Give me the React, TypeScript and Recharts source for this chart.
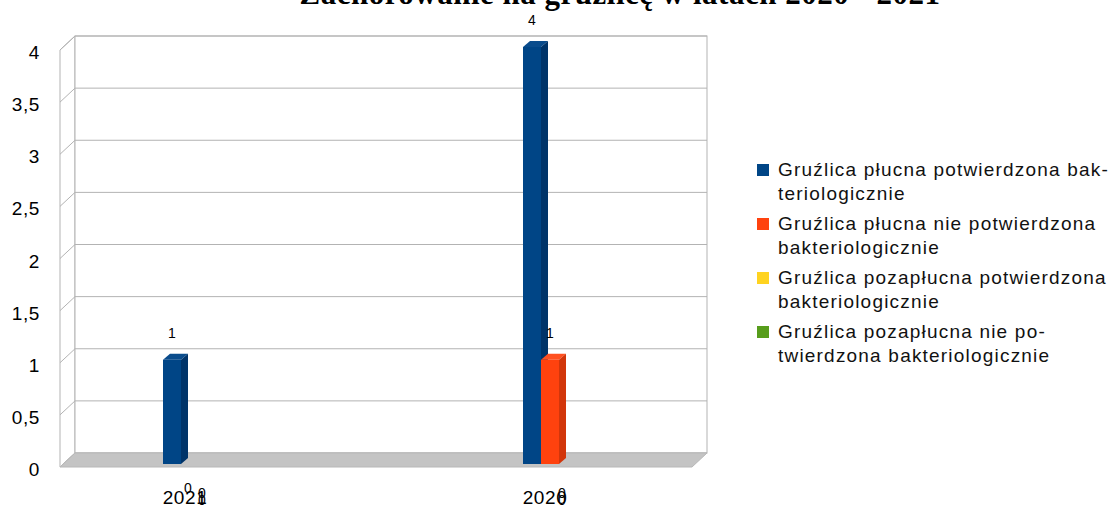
import * as React from 'react';
import * as R from 'recharts';
import { BarChart, Bar, XAxis, YAxis, Legend, LabelList } from 'recharts';

// chart data
const categories = ['2021', '2020'];
const pulmonaryConfirmed = [1, 4];
const pulmonaryUnconfirmed = [0, 1];
const extraConfirmed = [0, 0];
const extraUnconfirmed = [0, 0];
const yTicks = [0, 0.5, 1, 1.5, 2, 2.5, 3, 3.5, 4];

const seriesNames = [
  'Gruźlica płucna potwierdzona bak\u00ADteriologicznie',
  'Gruźlica płucna nie potwierdzona bakteriologicznie',
  'Gruźlica pozapłucna potwierdzona bakteriologicznie',
  'Gruźlica pozapłucna nie po\u00ADtwierdzona bakteriologicznie'
];
const seriesKeys = ['pc', 'pu', 'ec', 'eu'];
const seriesValues = [pulmonaryConfirmed, pulmonaryUnconfirmed, extraConfirmed, extraUnconfirmed];

const frontColors = ['#004586', '#ff420e', '#ffd320', '#579d1c'];
const sideColors = ['#003469', '#d2360b', '#d4af1a', '#477f17'];
const topColors = ['#0a4c8c', '#ff5020', '#ffdb45', '#63a828'];

const data = categories.map((name, i) => {
  const row: { [key: string]: string | number } = { name };
  seriesKeys.forEach((k, s) => {
    row[k] = seriesValues[s][i];
  });
  return row;
});

const FONT = '"Liberation Sans", Arial, sans-serif';
const WALL_DX = 15; // 3d depth of the walls
const WALL_DY = 14;
const BAR_DX = 14; // bars sit behind the category tick
const BAR_DEPTH = 7;
const BAR_SIZE = 18;
const GRID = '#b3b3b3';
const LEGEND_W = 358;

const usePlot: () => any = (R as any).usePlotArea || (R as any).useOffset || (() => null);

const Walls = () => {
  const plot = usePlot();
  if (!plot) return null;
  const max = yTicks[yTicks.length - 1];
  const sy = (v: number) => plot.y + plot.height * (1 - v / max);
  const fl = plot.x + 55; // front left edge
  const bl = fl + WALL_DX; // back left edge
  const br = plot.x + plot.width - 18; // back right edge
  const front = (v: number) => sy(v) + 3;
  const back = (v: number) => front(v) - WALL_DY;
  return (
    <g>
      <polygon
        points={`${fl},${front(max)} ${bl},${back(max)} ${bl},${back(0)} ${fl},${front(0)}`}
        fill="#fff"
        stroke={GRID}
      />
      <rect x={bl} y={back(max)} width={br - bl} height={back(0) - back(max)} fill="#fff" stroke={GRID} />
      {yTicks.map(v => (
        <g key={v}>
          <line x1={bl} x2={br} y1={back(v)} y2={back(v)} stroke={GRID} />
          <line x1={fl} x2={bl} y1={front(v)} y2={back(v)} stroke={GRID} />
          <text
            x={fl - 20}
            y={front(v) + 2.5}
            textAnchor="end"
            dominantBaseline="central"
            fontFamily={FONT}
            fontSize={19}
            letterSpacing={0.6}
            fill="#000"
          >
            {String(v).replace('.', ',')}
          </text>
        </g>
      ))}
      <polygon
        points={`${fl},${front(0)} ${bl},${back(0)} ${br},${back(0)} ${br - WALL_DX},${front(0)}`}
        fill="#c4c4c4"
        stroke="#b8b8b8"
      />
    </g>
  );
};

const Bar3D = (props: any) => {
  const { x, y, width, height, s } = props;
  if (!height || height <= 0) return null;
  const fx = x + BAR_DX;
  const d = BAR_DEPTH;
  const up = d - 1;
  return (
    <g>
      <polygon
        points={`${fx},${y} ${fx + d},${y - up} ${fx + width + d},${y - up} ${fx + width},${y}`}
        fill={topColors[s]}
      />
      <polygon
        points={`${fx + width},${y} ${fx + width + d},${y - up} ${fx + width + d},${y + height - up} ${fx + width},${y + height}`}
        fill={sideColors[s]}
      />
      <rect x={fx} y={y} width={width} height={height} fill={frontColors[s]} />
    </g>
  );
};

const makeLabel = (s: number) => (props: any) => {
  const { x, y, width, value } = props;
  if (value === undefined || value === null) return null;
  let lx = x + BAR_DX + width / 2;
  let ly = y - 27;
  if (value === 0) {
    // zero labels land on top of the category label, as in the source
    const center = x + 2 * BAR_SIZE - s * BAR_SIZE;
    if (s === 1) {
      lx = lx - 2;
      ly = y + 24;
    } else {
      lx = center + 17;
      ly = y + (s === 2 ? 29 : 36);
    }
  }
  return (
    <text x={lx} y={ly} textAnchor="middle" dominantBaseline="central" fontFamily={FONT} fontSize={14} fill="#000">
      {value}
    </text>
  );
};

const XTick = (props: any) => {
  const { x, y, payload } = props;
  return (
    <text x={x} y={y + 33} textAnchor="middle" dominantBaseline="central" fontFamily={FONT} fontSize={19} letterSpacing={0.6} fill="#000">
      {payload.value}
    </text>
  );
};

const renderLegend = () => (
  <div style={{ fontFamily: FONT, fontSize: 19, letterSpacing: 1.2, color: '#111' }}>
    {seriesNames.map((n, i) => (
      <div key={i} style={{ display: 'flex', alignItems: 'flex-start', marginBottom: 6 }}>
        <span style={{ width: 12, height: 12, marginTop: 6, flexShrink: 0, background: frontColors[i] }} />
        <span style={{ marginLeft: 9, width: 337, lineHeight: '24px' }}>{n}</span>
      </div>
    ))}
  </div>
);

export default function App() {
  return (
    <div style={{ position: 'absolute', left: 0, top: 0, width: 1115, height: 508, background: '#fff' }}>
      <BarChart
        width={1115}
        height={508}
        data={data}
        margin={{ top: 47, right: 390 - LEGEND_W, bottom: 14, left: 4 }}
        barGap={0}
        barSize={BAR_SIZE}
      >
        <Walls />
        <text
          x={620}
          y={4}
          textAnchor="middle"
          fontFamily='"Liberation Serif", "Times New Roman", serif'
          fontWeight="bold"
          fontSize={31}
          letterSpacing={0.5}
          fill="#000"
        >
          Zachorowanie na gruźlicę w latach 2020 - 2021
        </text>
        <XAxis
          dataKey="name"
          height={30}
          axisLine={false}
          tickLine={false}
          tickSize={0}
          tickMargin={0}
          tick={<XTick />}
          interval={0}
        />
        <YAxis width={1} domain={[0, 4]} ticks={yTicks} axisLine={false} tickLine={false} tick={false} />
        {seriesKeys.map((k, s) => (
          <Bar
            key={k}
            dataKey={k}
            name={seriesNames[s]}
            fill={frontColors[s]}
            isAnimationActive={false}
            shape={(p: any) => <Bar3D {...p} s={s} />}
          >
            <LabelList dataKey={k} content={makeLabel(s)} />
          </Bar>
        ))}
        <Legend
          layout="vertical"
          verticalAlign="middle"
          align="right"
          content={renderLegend}
          wrapperStyle={{ left: 757, top: 158, width: LEGEND_W, height: 220 }}
        />
      </BarChart>
    </div>
  );
}
